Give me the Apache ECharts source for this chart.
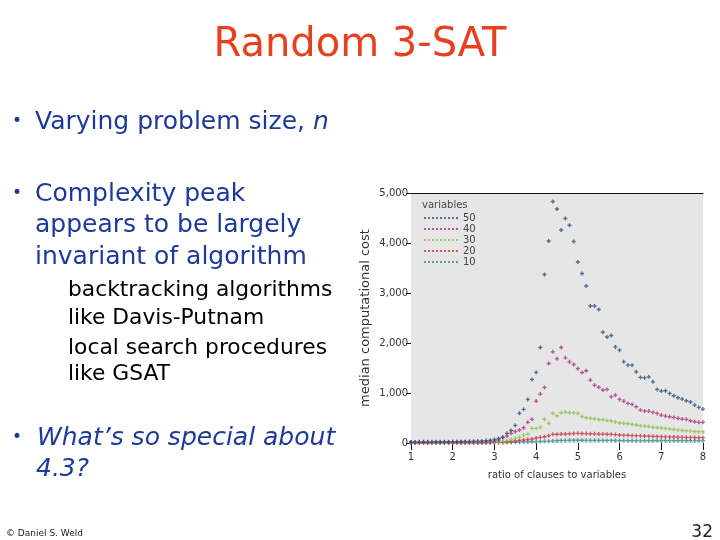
<!DOCTYPE html>
<html>
<head>
<meta charset="utf-8">
<script src="https://cdn.jsdelivr.net/npm/echarts@6/dist/echarts.min.js"></script>
<style>
html,body{margin:0;padding:0;background:#fff;}
#c{width:720px;height:540px;}
</style>
</head>
<body>
<div id="c"></div>
<script>
// ratio of clauses to variables
var ratios = [1.0,1.1,1.2,1.3,1.4,1.5,1.6,1.7,1.8,1.9,
              2.0,2.1,2.2,2.3,2.4,2.5,2.6,2.7,2.8,2.9,
              3.0,3.1,3.2,3.3,3.4,3.5,3.6,3.7,3.8,3.9,
              4.0,4.1,4.2,4.3,4.4,4.5,4.6,4.7,4.8,4.9,
              5.0,5.1,5.2,5.3,5.4,5.5,5.6,5.7,5.8,5.9,
              6.0,6.1,6.2,6.3,6.4,6.5,6.6,6.7,6.8,6.9,
              7.0,7.1,7.2,7.3,7.4,7.5,7.6,7.7,7.8,7.9,
              8.0];
var seriesNames = ['50','40','30','20','10'];
var cost50 = [22,22,23,23,24,24,25,25,26,27,
              28,29,30,32,34,36,38,42,48,55,
              70,90,113,193,250,353,593,673,872,1271,
              1411,1910,3370,4040,4830,4680,4260,4490,4355,4030,
              3620,3390,3140,2740,2740,2670,2215,2120,2150,1922,
              1856,1623,1557,1557,1424,1311,1304,1324,1224,1071,
              1038,1045,992,945,905,878,845,820,758,712,
              679];
var cost40 = [10,10,10,10,10,11,11,11,12,12,
              12,13,13,14,14,15,16,18,20,24,
              35,60,110,140,193,230,260,305,413,473,
              838,978,1111,1590,1823,1683,1910,1703,1623,1570,
              1490,1410,1445,1258,1158,1115,1060,1071,924,958,
              872,838,792,772,725,659,639,639,612,592,
              559,539,525,512,493,479,473,445,425,413,
              413];
var cost30 = [8,8,8,8,8,8,8,8,8,8,
              8,8,9,9,9,9,10,10,11,12,
              15,20,27,50,73,93,113,160,173,293,
              293,313,475,393,593,545,605,619,605,605,
              593,530,505,493,485,470,465,450,440,420,
              400,393,385,375,360,345,339,330,315,305,
              300,290,280,270,262,250,245,238,232,226,
              222];
var cost20 = [5,5,5,5,5,5,5,5,5,5,
              5,5,5,5,5,5,5,5,6,7,
              10,13,17,25,32,40,50,60,70,80,
              100,113,125,145,173,175,178,180,185,190,
              193,190,188,185,183,180,178,175,173,168,
              160,157,153,150,147,143,140,137,133,130,
              126,124,122,120,118,116,114,112,110,108,
              106];
var cost10 = [4,4,4,4,4,4,4,4,4,4,
              4,4,4,4,4,4,4,4,4,5,
              6,7,8,10,12,15,17,20,22,25,
              27,30,33,37,42,45,50,52,55,55,
              55,55,54,53,53,52,52,51,51,50,
              48,48,47,48,47,47,48,47,47,48,
              47,48,47,47,48,47,47,48,47,47,
              47];
var xTicks = [1,2,3,4,5,6,7,8];
var yTicks = [0,1000,2000,3000,4000,5000];

var colors = ['#2a4f80','#a8327a','#8cc24a','#c8323c','#2f8a8c'];
var allCosts = [cost50,cost40,cost30,cost20,cost10];

function pairs(ys){ return ratios.map(function(x,i){ return [x, ys[i]]; }); }

var plusPath = 'path://M1 0H2V1H3V2H2V3H1V2H0V1H1Z';
var dotIcon = 'path://M0 0h2v2h-2z M4 0h2v2h-2z M8 0h2v2h-2z M12 0h2v2h-2z M16 0h2v2h-2z M20 0h2v2h-2z M24 0h2v2h-2z M28 0h2v2h-2z M32 0h2v2h-2z';

var series = seriesNames.map(function(n, k){
  return {
    name: n, type: 'scatter', xAxisIndex: 0, yAxisIndex: 0,
    data: pairs(allCosts[k]),
    symbol: plusPath, symbolSize: 4,
    itemStyle: {color: colors[k]},
    z: 10 - k
  };
});

var blue = '#1b3a9c';
var font = 'DejaVu Sans';
function txt(x, y, s, size, color, opts){
  opts = opts || {};
  return {type:'text', x: x, y: y, silent: true,
    style:{text: s, font: (opts.italic?'italic ':'') + size + 'px "' + font + '"', fill: color,
      textAlign: opts.align || 'left', textVerticalAlign: 'middle'}};
}

var graphics = [
  txt(360, 46, 'Random 3-SAT', 40, '#e8401e', {align:'center'}),
  txt(12, 122, '\u2022', 17, blue),
  {type:'text', x:35, y:122, silent:true, style:{rich:{a:{font:'25px "DejaVu Sans"', fill: blue}, b:{font:'italic 25px "DejaVu Sans"', fill: blue}}, text:'{a|Varying problem size, }{b|n}', textVerticalAlign:'middle'}},
  txt(12, 194, '\u2022', 17, blue),
  txt(35, 194, 'Complexity peak', 25, blue),
  txt(35, 225, 'appears to be largely', 25, blue),
  txt(35, 257, 'invariant of algorithm', 25, blue),
  txt(68, 290, 'backtracking algorithms', 21.8, '#000'),
  txt(68, 318, 'like Davis-Putnam', 21.8, '#000'),
  txt(68, 348, 'local search procedures', 21.8, '#000'),
  txt(68, 374, 'like GSAT', 21.8, '#000'),
  txt(12, 438, '\u2022', 17, blue),
  txt(37, 438, 'What\u2019s so special about', 25, blue, {italic:true}),
  txt(36, 469, '4.3?', 25, blue, {italic:true}),
  txt(6, 534, '\u00a9 Daniel S. Weld', 9, '#222'),
  txt(713, 533, '32', 17, '#222', {align:'right'}),
  txt(422, 205, 'variables', 10, '#444')
];

var chart = echarts.init(document.getElementById('c'), null, {renderer:'canvas'});
chart.setOption({
  animation: false,
  backgroundColor: '#fff',
  grid: {left: 411, top: 193, width: 292, height: 250, show: true, backgroundColor: '#e6e6e6', borderWidth: 0},
  legend: {
    data: seriesNames, orient: 'vertical', left: 424, top: 213, padding: 0,
    itemWidth: 34, itemHeight: 3, itemGap: 1, icon: dotIcon,
    textStyle: {fontSize: 10, color: '#444', fontFamily: font}
  },
  xAxis: [{
    type: 'value', min: 1, max: 8, interval: 1,
    name: 'ratio of clauses to variables', nameLocation: 'middle', nameGap: 27,
    nameTextStyle: {fontSize: 10, color: '#333', fontFamily: font},
    axisLine: {show: false},
    axisTick: {show: true, length: 7, lineStyle: {color: '#111'}},
    axisLabel: {fontSize: 10, color: '#333', margin: 9, fontFamily: font,
      formatter: function(v){ return xTicks.indexOf(v) >= 0 ? String(v) : ''; }},
    splitLine: {show: false}
  },{
    type: 'value', min: 1, max: 8, position: 'top',
    axisLine: {show: true, onZero: false, lineStyle: {color: '#111', width: 1}},
    axisTick: {show: false}, axisLabel: {show: false}, splitLine: {show: false}
  }],
  yAxis: {
    type: 'value', min: 0, max: 5000, interval: 1000,
    name: 'median computational cost', nameLocation: 'middle', nameGap: 39,
    nameTextStyle: {fontSize: 13, color: '#333', fontFamily: font},
    axisLine: {show: false},
    axisTick: {show: true, length: 5, lineStyle: {color: '#111'}},
    axisLabel: {fontSize: 10, color: '#333', margin: 3, fontFamily: font,
      formatter: function(v){ return yTicks.indexOf(v) >= 0 ? v.toLocaleString('en-US') : ''; }},
    splitLine: {show: false}
  },
  series: series,
  graphic: graphics
});
</script>
</body>
</html>
